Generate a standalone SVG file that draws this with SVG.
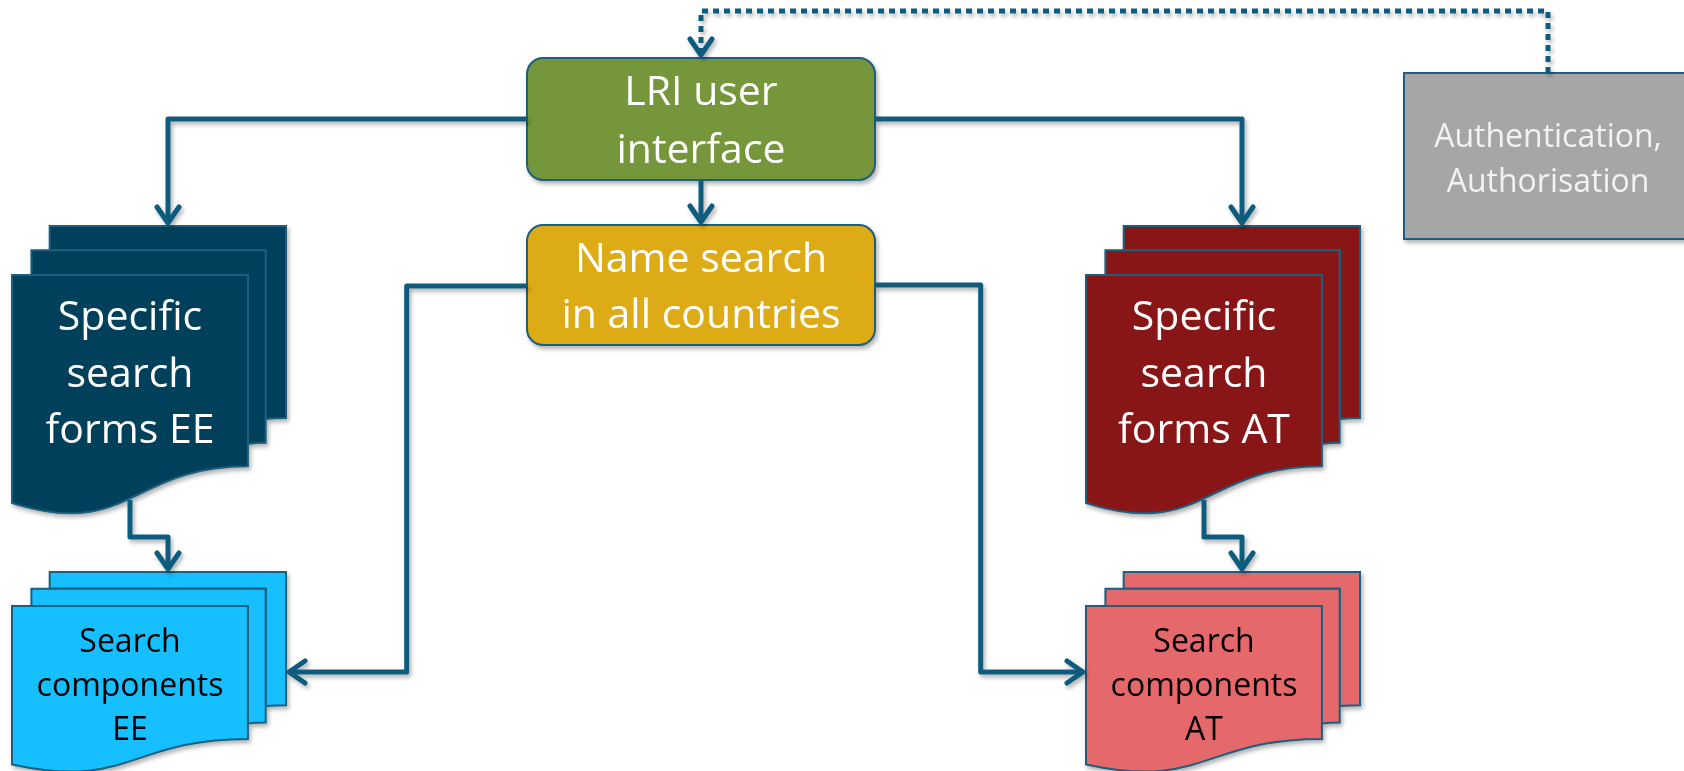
<svg xmlns="http://www.w3.org/2000/svg" width="1684" height="771" viewBox="0 0 1684 771">
  <style>
    .conn { fill: none; stroke: #0F5C7E; stroke-width: 5; stroke-linejoin: round; }
    .dot { stroke-dasharray: 6 5; }
    .edge { stroke: #1B5E7E; stroke-width: 2; }
    .t { font-family: "Open Sans", "Noto Sans", "Liberation Sans", sans-serif; text-anchor: middle; }
    .big { font-size: 41px; fill: #FFFFFF; }
    .mid { font-size: 32px; fill: #000000; }
    .auth { font-size: 32px; fill: #F2F2F2; }
  </style>
  <defs>
    <filter id="sh" x="-10%" y="-10%" width="130%" height="130%">
      <feDropShadow dx="2" dy="3" stdDeviation="2" flood-color="#000" flood-opacity="0.3"/>
    </filter>
    <marker id="arr" markerUnits="userSpaceOnUse" viewBox="-20 -20 40 40" markerWidth="40" markerHeight="40" refX="0" refY="0" orient="auto" overflow="visible">
      <path d="M -16,-11 L 0,0 L -16,11" fill="none" stroke="#0F5C7E" stroke-width="5" stroke-linecap="round" stroke-linejoin="round"/>
    </marker>
  </defs>
  <rect width="1684" height="771" fill="#FFFFFF"/>

  <g id="auth" filter="url(#sh)">
    <rect x="1404" y="73" width="290" height="166" fill="#A6A6A6" class="edge"/>
    <text class="t auth" x="1548" y="147">Authentication,</text>
    <text class="t auth" x="1548" y="192">Authorisation</text>
  </g>

  <g id="lri" filter="url(#sh)">
    <rect x="527" y="58" width="348" height="122" rx="16" fill="#74963A" class="edge"/>
    <text class="t big" x="701" y="105">LRI user</text>
    <text class="t big" x="701" y="163">interface</text>
  </g>

  <g id="namesearch" filter="url(#sh)">
    <rect x="527" y="225" width="348" height="120" rx="16" fill="#DCAB16" class="edge"/>
    <text class="t big" x="701" y="272">Name search</text>
    <text class="t big" x="701" y="328">in all countries</text>
  </g>

  <g id="forms-ee" filter="url(#sh)">
    <path d="M 49.7,250.2 L 49.7,226 L 286,226 L 286,417.9 C 275.9,417.9 265.7,418.9 265.7,418.9 L 265.7,250.2 Z" fill="#02405A" class="edge"/>
    <path d="M 31.4,275 L 31.4,250.2 L 265.7,250.2 L 265.7,442.7 C 256.8,442.7 247.9,444 247.9,444 L 247.9,275 Z" fill="#02405A" class="edge"/>
    <path d="M 12,503.1 C 129.9,539.9 129.9,466.3 247.9,466.3 L 247.9,275 L 12,275 Z" fill="#02405A" class="edge"/>
    <text class="t big" x="130" y="330">Specific</text>
    <text class="t big" x="130" y="387">search</text>
    <text class="t big" x="130" y="443">forms EE</text>
  </g>

  <g id="components-ee" filter="url(#sh)">
    <path d="M 49.7,588.8 L 49.7,572 L 286,572 L 286,705.3 C 275.9,705.3 265.7,706 265.7,706 L 265.7,588.8 Z" fill="#17BFFF" class="edge"/>
    <path d="M 31.4,606 L 31.4,588.8 L 265.7,588.8 L 265.7,722.5 C 256.8,722.5 247.9,723.4 247.9,723.4 L 247.9,606 Z" fill="#17BFFF" class="edge"/>
    <path d="M 12,764.4 C 129.9,790 129.9,738.9 247.9,738.9 L 247.9,606 L 12,606 Z" fill="#17BFFF" class="edge"/>
    <text class="t mid" x="130" y="652">Search</text>
    <text class="t mid" x="130" y="696">components</text>
    <text class="t mid" x="130" y="740">EE</text>
  </g>

  <g id="forms-at" filter="url(#sh)">
    <path d="M 1123.7,250.2 L 1123.7,226 L 1360,226 L 1360,417.9 C 1349.9,417.9 1339.7,418.9 1339.7,418.9 L 1339.7,250.2 Z" fill="#891619" class="edge"/>
    <path d="M 1105.4,275 L 1105.4,250.2 L 1339.7,250.2 L 1339.7,442.7 C 1330.8,442.7 1321.9,444 1321.9,444 L 1321.9,275 Z" fill="#891619" class="edge"/>
    <path d="M 1086,503.1 C 1203.9,539.9 1203.9,466.3 1321.9,466.3 L 1321.9,275 L 1086,275 Z" fill="#891619" class="edge"/>
    <text class="t big" x="1204" y="330">Specific</text>
    <text class="t big" x="1204" y="387">search</text>
    <text class="t big" x="1204" y="443">forms AT</text>
  </g>

  <g id="components-at" filter="url(#sh)">
    <path d="M 1123.7,588.8 L 1123.7,572 L 1360,572 L 1360,705.3 C 1349.9,705.3 1339.7,706 1339.7,706 L 1339.7,588.8 Z" fill="#E5676B" class="edge"/>
    <path d="M 1105.4,606 L 1105.4,588.8 L 1339.7,588.8 L 1339.7,722.5 C 1330.8,722.5 1321.9,723.4 1321.9,723.4 L 1321.9,606 Z" fill="#E5676B" class="edge"/>
    <path d="M 1086,764.4 C 1203.9,790 1203.9,738.9 1321.9,738.9 L 1321.9,606 L 1086,606 Z" fill="#E5676B" class="edge"/>
    <text class="t mid" x="1204" y="652">Search</text>
    <text class="t mid" x="1204" y="696">components</text>
    <text class="t mid" x="1204" y="740">AT</text>
  </g>

  <g id="connectors" filter="url(#sh)">
    <path class="conn dot" d="M 1548,73 V 11 H 701 V 55" marker-end="url(#arr)"/>
    <path class="conn" d="M 527,119 H 168 V 223" marker-end="url(#arr)"/>
    <path class="conn" d="M 875,119 H 1242 V 223" marker-end="url(#arr)"/>
    <path class="conn" d="M 701,180 V 222" marker-end="url(#arr)"/>
    <path class="conn" d="M 527,286 H 406.7 V 672 H 289" marker-end="url(#arr)"/>
    <path class="conn" d="M 875,285 H 980.7 V 672 H 1083" marker-end="url(#arr)"/>
    <path class="conn" d="M 130,500 V 537 H 168 V 569" marker-end="url(#arr)"/>
    <path class="conn" d="M 1204,500 V 537 H 1242 V 569" marker-end="url(#arr)"/>
  </g>
</svg>
